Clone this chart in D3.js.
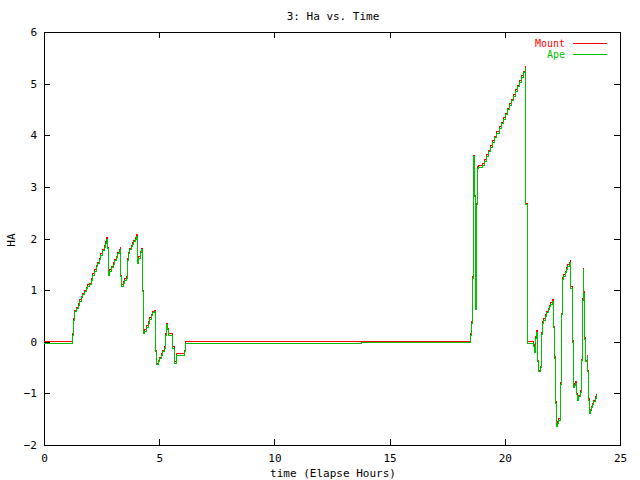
<!DOCTYPE html>
<html>
<head>
<meta charset="utf-8">
<script src="https://cdnjs.cloudflare.com/ajax/libs/d3/7.8.5/d3.min.js"></script>
<style>
html,body{margin:0;padding:0;background:#fff;}
svg{display:block;}
text{font-family:"DejaVu Sans Mono",monospace;font-size:11px;fill:#000;}
</style>
</head>
<body>
<svg id="chart" width="640" height="480"></svg>
<script>
const title = "3: Ha vs. Time";
const xLabel = "time (Elapse Hours)";
const yLabel = "HA";
const xTicks = [0, 5, 10, 15, 20, 25];
const yTicks = [-2, -1, 0, 1, 2, 3, 4, 5, 6];
const seriesNames = ["Mount", "Ape"];
const seriesColors = ["#ff0000", "#00c000"];

const time = [
  0.00, 1.23, 1.29, 1.34, 1.41, 1.48, 1.55, 1.62, 1.69, 1.76, 1.83, 1.90, 1.97,
  2.05, 2.12, 2.19, 2.26, 2.33, 2.40, 2.47, 2.54, 2.61, 2.67, 2.73, 2.76, 2.79,
  2.86, 2.93, 3.00, 3.07, 3.14, 3.21, 3.27, 3.31, 3.34, 3.38, 3.44, 3.50, 3.56,
  3.61, 3.66, 3.72, 3.78, 3.84, 3.90, 3.96, 4.02, 4.07, 4.12, 4.19, 4.24, 4.27,
  4.33, 4.37, 4.45, 4.52, 4.59, 4.66, 4.73, 4.79, 4.86, 4.90, 4.96, 5.03, 5.10,
  5.16, 5.23, 5.27, 5.31, 5.36, 5.39, 5.59, 5.66, 5.76, 6.09, 6.15, 13.76,
  18.52, 18.56, 18.58, 18.62, 18.66, 18.69, 18.72, 18.74, 18.78, 18.82, 18.86,
  19.04, 19.12, 19.21, 19.30, 19.39, 19.48, 19.57, 19.66, 19.75, 19.84, 19.93,
  20.02, 20.11, 20.20, 20.29, 20.38, 20.47, 20.56, 20.65, 20.74, 20.83, 20.90,
  20.92, 20.98, 21.24, 21.30, 21.34, 21.37, 21.41, 21.43, 21.47, 21.53, 21.58,
  21.60, 21.64, 21.70, 21.76, 21.82, 21.88, 21.94, 22.00, 22.06, 22.10, 22.15,
  22.21, 22.24, 22.27, 22.33, 22.40, 22.43, 22.47, 22.50, 22.56, 22.62, 22.68,
  22.74, 22.80, 22.84, 22.87, 22.93, 22.97, 23.03, 23.09, 23.12, 23.15, 23.21,
  23.27, 23.31, 23.37, 23.40, 23.43, 23.45, 23.52, 23.57, 23.61, 23.65, 23.68,
  23.72, 23.77, 23.82, 23.87, 23.92, 23.96
];

const ape = [
  -0.03, 0.13, 0.42, 0.58, 0.64, 0.71, 0.78, 0.85, 0.91, 0.97, 1.03, 1.07, 1.10,
  1.19, 1.29, 1.37, 1.45, 1.51, 1.59, 1.67, 1.76, 1.83, 1.91, 1.99, 1.80, 1.29,
  1.36, 1.43, 1.50, 1.57, 1.63, 1.70, 1.76, 1.79, 1.26, 1.07, 1.13, 1.19, 1.23,
  1.58, 1.70, 1.78, 1.84, 1.89, 1.94, 1.99, 2.04, 1.52, 1.62, 1.72, 1.78, 0.97,
  0.16, 0.20, 0.28, 0.36, 0.44, 0.50, 0.56, 0.58, -0.19, -0.45, -0.39, -0.33, -0.26,
  -0.19, -0.13, 0.13, 0.33, 0.23, 0.13, -0.13, -0.42, -0.26, -0.19, -0.03, -0.01,
  0.13, 0.36, 1.23, 2.81, 3.58, 2.81, 1.36, 0.62, 2.65, 3.36, 3.38,
  3.42, 3.50, 3.59, 3.68, 3.77, 3.86, 3.95, 4.04, 4.13, 4.22, 4.31,
  4.40, 4.49, 4.58, 4.67, 4.76, 4.85, 4.94, 5.03, 5.12, 5.21, 5.30,
  2.65, -0.03, -0.09, -0.20, 0.07, 0.18, -0.01, -0.39, -0.58, -0.50, -0.28,
  0.15, 0.36, 0.42, 0.49, 0.56, 0.62, 0.68, 0.73, 0.78, 0.27, -0.32,
  -1.19, -1.64, -1.58, -1.52, -1.48, -0.82, 0.52, 1.21, 1.27, 1.34, 1.40,
  1.46, 1.51, 1.54, 1.04, -0.01, -0.88, -0.84, -0.80, -1.03, -1.13, -1.07,
  -0.98, -0.37, 0.80, 1.39, 0.94, 0.05, -0.39, -0.29, -0.58, -1.13, -1.39,
  -1.34, -1.28, -1.22, -1.16, -1.10, -1.04
];

const mount = [
  0.00, 0.16, 0.45, 0.61, 0.67, 0.74, 0.81, 0.88, 0.94, 1.00, 1.06, 1.10, 1.13,
  1.22, 1.32, 1.40, 1.48, 1.54, 1.62, 1.70, 1.79, 1.86, 1.94, 2.02, 1.83, 1.32,
  1.39, 1.46, 1.53, 1.60, 1.66, 1.73, 1.79, 1.82, 1.29, 1.10, 1.16, 1.22, 1.26,
  1.61, 1.73, 1.81, 1.87, 1.92, 1.97, 2.02, 2.07, 1.55, 1.65, 1.75, 1.81, 1.00,
  0.19, 0.23, 0.31, 0.39, 0.47, 0.53, 0.59, 0.61, -0.16, -0.42, -0.36, -0.30, -0.23,
  -0.16, -0.10, 0.16, 0.36, 0.26, 0.16, -0.10, -0.39, -0.23, -0.16, 0.00, 0.01,
  0.16, 0.39, 1.26, 2.84, 3.61, 2.84, 1.39, 0.65, 2.68, 3.39, 3.42,
  3.45, 3.53, 3.62, 3.71, 3.80, 3.89, 3.98, 4.07, 4.16, 4.25, 4.34,
  4.43, 4.52, 4.61, 4.70, 4.79, 4.88, 4.97, 5.06, 5.15, 5.24, 5.33,
  2.68, 0.00, -0.06, -0.17, 0.10, 0.21, 0.02, -0.36, -0.55, -0.47, -0.25,
  0.18, 0.39, 0.45, 0.52, 0.59, 0.65, 0.71, 0.76, 0.81, 0.30, -0.29,
  -1.16, -1.61, -1.55, -1.49, -1.45, -0.79, 0.55, 1.24, 1.30, 1.37, 1.43,
  1.49, 1.54, 1.57, 1.07, 0.02, -0.85, -0.81, -0.77, -1.00, -1.10, -1.04,
  -0.95, -0.34, 0.83, 1.42, 0.97, 0.08, -0.36, -0.26, -0.55, -1.10, -1.36,
  -1.31, -1.25, -1.19, -1.13, -1.07, -1.01
];

const svg = d3.select("#chart");
const L = 44, R = 620, T = 32, B = 445;

const x = d3.scaleLinear().domain([0, 25]).range([L, R]);
const y = d3.scaleLinear().domain([-2, 6]).range([B, T]);

// titles
svg.append("text").attr("x", 333).attr("y", 20).attr("text-anchor", "middle").text(title);
svg.append("text").attr("x", 333).attr("y", 477).attr("text-anchor", "middle").text(xLabel);
svg.append("text").attr("transform", "translate(11,240) rotate(-90)")
  .attr("text-anchor", "middle").attr("dy", "0.35em").text(yLabel);

// axes with inward ticks
const tickLen = 6;
const gB = svg.append("g").attr("transform", `translate(0,${B})`)
  .call(d3.axisBottom(x).tickValues(xTicks).tickSize(-tickLen).tickPadding(9).tickFormat(d3.format("d")));
const gT = svg.append("g").attr("transform", `translate(0,${T})`)
  .call(d3.axisTop(x).tickValues(xTicks).tickSize(-tickLen).tickFormat(""));
const gL = svg.append("g").attr("transform", `translate(${L},0)`)
  .call(d3.axisLeft(y).tickValues(yTicks).tickSize(-tickLen).tickPadding(7).tickFormat(d3.format("d")));
const gR = svg.append("g").attr("transform", `translate(${R},0)`)
  .call(d3.axisRight(y).tickValues(yTicks).tickSize(-tickLen).tickFormat(""));

[gB, gT, gL, gR].forEach(g => {
  g.select(".domain").remove();
  g.selectAll("line").attr("stroke", "#000").attr("shape-rendering", "crispEdges");
  g.selectAll("text").style("font-family", '"DejaVu Sans Mono",monospace').style("font-size", "11px").attr("fill", "#000");
});
gB.selectAll("text").attr("dy", "0.71em");

svg.append("rect").attr("x", L).attr("y", T).attr("width", R - L).attr("height", B - T)
  .attr("fill", "none").attr("stroke", "#000").attr("shape-rendering", "crispEdges");

// lines
const series = [mount, ape];
const line = d3.line().curve(d3.curveStepAfter);
series.forEach((vals, i) => {
  const pts = time.map((t, k) => [x(t), y(vals[k])]);
  svg.append("path").attr("d", line(pts)).attr("fill", "none")
    .attr("stroke", seriesColors[i]).attr("stroke-width", 1)
    .attr("shape-rendering", "crispEdges");
});

// legend
const legY = [43, 54];
seriesNames.forEach((n, i) => {
  svg.append("text").attr("x", 565).attr("y", legY[i]).attr("dy", "0.35em")
    .attr("text-anchor", "end").style("font-size", "10px").style("fill", seriesColors[i]).text(n);
  svg.append("line").attr("x1", 573).attr("x2", 607).attr("y1", legY[i] + 0.5).attr("y2", legY[i] + 0.5)
    .attr("stroke", seriesColors[i]).attr("stroke-width", 1.2);
});
</script>
</body>
</html>
